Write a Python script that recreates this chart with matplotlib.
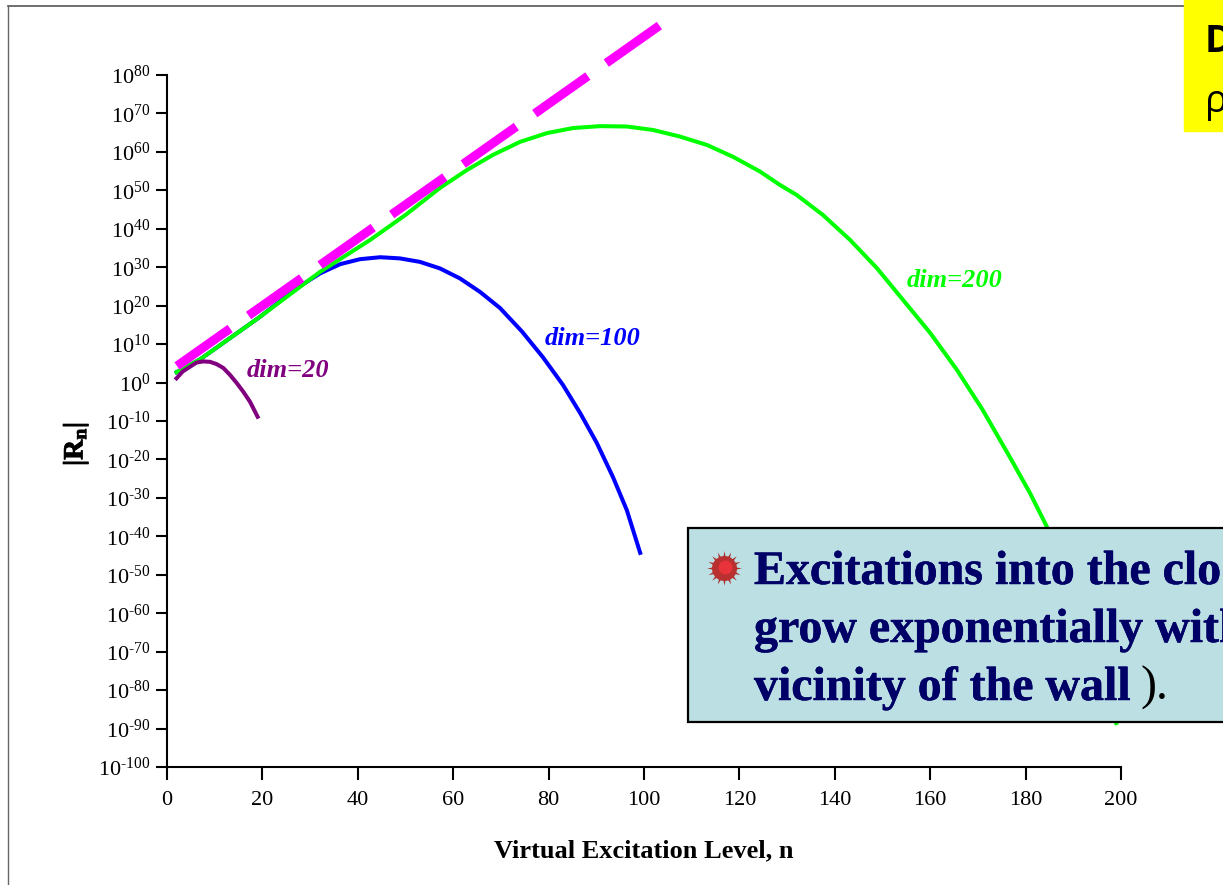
import matplotlib
matplotlib.use("Agg")
import matplotlib.pyplot as plt
import matplotlib.patheffects as pe
from matplotlib.patches import Rectangle
from matplotlib.lines import Line2D

plt.rcParams['font.family'] = ['Liberation Serif', 'DejaVu Serif']
plt.rcParams['mathtext.fontset'] = 'custom'
plt.rcParams['mathtext.rm'] = 'Liberation Serif'
plt.rcParams['mathtext.it'] = 'Liberation Serif:italic'
plt.rcParams['mathtext.bf'] = 'Liberation Serif:bold'

# log10 |R_n| values
n_asym = [2.1, 103.4]
log_asym = [4.3, 93]

n_20 = [2, 3.3, 4.8, 6.2, 7.6, 9, 10.4, 11.8, 13.2, 14.6, 16, 17.4, 19]
log_20 = [1.1, 2.9, 4.1, 5.2, 5.5, 5.4, 4.8, 3.8, 2.0, -0.1, -2.4, -5, -8.9]

n_100 = [2, 6.9, 19.5, 27, 32.1, 36.3, 40.5, 44.7, 48.8, 53, 57.2, 61.4, 65.6, 69.8,
         74.4, 78.8, 83, 86.6, 90.1, 93.5, 96.4, 99.2]
log_100 = [2.7, 6.0, 17.1, 24.4, 28.4, 30.8, 32.1, 32.6, 32.3, 31.4, 29.7, 27.1, 23.6, 19.4,
           13.3, 6.6, -0.6, -7.9, -15.7, -24.6, -33.2, -44.3]

n_200 = [2, 6.9, 19.5, 32.1, 42.6, 50, 57.2, 62.9, 68.3, 74, 79.7, 85.1, 90.8, 96.4, 101.9,
         107.5, 113.2, 118.7, 124.3, 128.5, 132, 137.5, 143.2, 148.8, 154.3, 160, 165.6,
         171, 176.7, 180.9, 184.5, 192, 199]
log_200 = [2.7, 6.0, 17.1, 28.8, 37.1, 43.6, 50.6, 55.3, 59.2, 62.6, 64.9, 66.2, 66.7, 66.6, 65.7,
           64, 61.8, 58.7, 54.9, 51.4, 48.8, 43.6, 37.1, 29.8, 21.5, 12.9, 3.3,
           -7.1, -19.4, -28.7, -37.6, -60, -88.6]

x_ticks = list(range(0, 201, 20))
y_exps = list(range(-100, 81, 10))
curve_labels = ['dim=20', 'dim=100', 'dim=200']
box_lines = ['Excitations into the clo', 'grow exponentially with', 'vicinity of the wall']

W, H = 1223, 885
fig = plt.figure(figsize=(W / 100, H / 100), dpi=100, facecolor='white')
ax = fig.add_axes([167 / W, 1 - 767 / H, (1121 - 167) / W, (767 - 75) / H])
ax.set_xlim(0, 200)
ax.set_ylim(-100, 80)
for s in ['top', 'right']:
    ax.spines[s].set_visible(False)
for s in ['left', 'bottom']:
    ax.spines[s].set_linewidth(1.5)
ax.set_xticks(x_ticks)
ax.set_yticks(y_exps)
ax.set_yticklabels([r'$\mathregular{10^{%s}}$' % str(e).replace('-', '\u2010') for e in y_exps])
ax.tick_params(axis='y', length=8, width=1.5, labelsize=16, pad=4)
ax.tick_params(axis='x', length=9.4, width=1.5, labelsize=16, pad=8)
ax.set_xlabel('Virtual Excitation Level, n', fontsize=19, fontweight='bold', labelpad=21)

ax.plot(n_100, log_100, color='#0000ff', lw=2.9, zorder=2)
ax.plot(n_200, log_200, color='#00ff00', lw=2.9, zorder=3)
ax.plot(n_20, log_20, color='#800080', lw=2.9, zorder=4)
ax.plot(n_asym, log_asym, color='#ff00ff', lw=6.5, zorder=5, clip_on=False,
        dashes=(7.2, 2.5), dash_capstyle='butt')

label_style = dict(fontsize=19, style='italic', fontweight='bold', va='baseline')
ax.text(16.7, 1.4, curve_labels[0], color='#800080', **label_style)
ax.text(79.2, 9.8, curve_labels[1], color='#0000ff', **label_style)
ax.text(155, 24.9, curve_labels[2], color='#00ff00', **label_style)

def fx(p): return p / W
def fy(p): return 1 - p / H

fig.text(fx(76), fy(444), r'|R$_{\mathregular{n}}$|', fontsize=20, fontweight='bold',
         rotation=90, ha='center', va='center',
         path_effects=[pe.withStroke(linewidth=0.6, foreground='black')])

# slide frame
fig.add_artist(Line2D([fx(8), fx(1184)], [fy(6), fy(6)], color='#555555', lw=1.2))
fig.add_artist(Line2D([fx(8), fx(8)], [fy(6), fy(885)], color='#666666', lw=1.0))

# yellow box
fig.add_artist(Rectangle((fx(1184), fy(131)), (W - 1184) / W, 131 / H, color='#ffff00', zorder=6))
fig.text(fx(1205), fy(52), 'D', fontsize=27, fontweight='bold', family='Open Sans', va='baseline', zorder=7)
fig.text(fx(1205), fy(112), 'ρ', fontsize=27, family='Open Sans', va='baseline', zorder=7)

# callout box
fig.add_artist(Rectangle((fx(688), fy(722)), (1240 - 688) / W, (722 - 528) / H, facecolor='#bbdfe3',
                         edgecolor='black', lw=1.6, zorder=6))
navy = '#000066'
heavy = [pe.withStroke(linewidth=0.35, foreground=navy)]
for line, base in zip(box_lines, [584, 642, 700]):
    fig.text(fx(754), fy(base), line, color=navy, fontsize=34.5, fontweight='bold',
             va='baseline', zorder=7, path_effects=heavy)
fig.text(fx(1140), fy(700), ').', color='black', fontsize=34.5, va='baseline', zorder=7)
fig.add_artist(Line2D([fx(723.5)], [fy(568)], marker=(16, 1, 0), ms=25, color='#a5302e', mec='none', zorder=7))
fig.add_artist(Line2D([fx(723.5)], [fy(568)], marker='o', ms=18, color='#b8302f', mec='none', zorder=8))
fig.add_artist(Line2D([fx(725)], [fy(567)], marker='o', ms=10, color='#e8333a', mec='none', zorder=9))

fig.savefig('out.png', dpi=100)
